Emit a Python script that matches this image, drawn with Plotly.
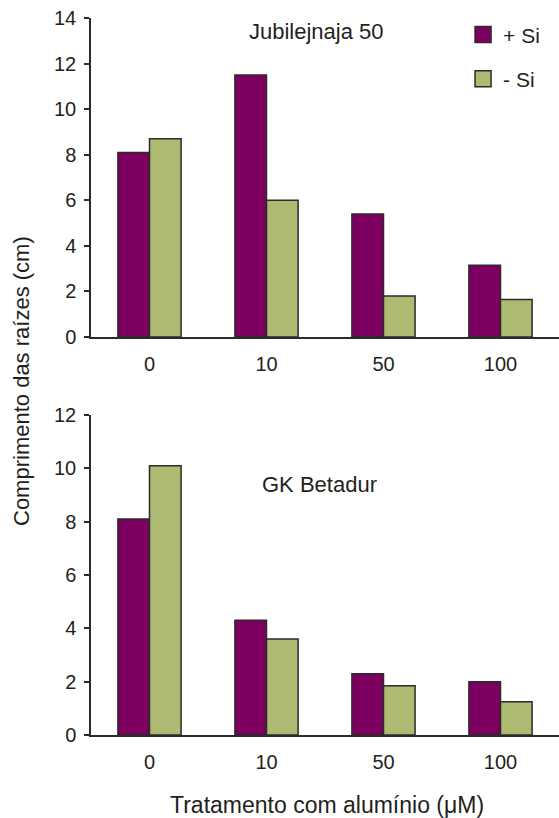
import plotly.graph_objects as go

# Aluminium treatment levels (µM)
categories = ["0", "10", "50", "100"]

# Root length (cm) – cultivar Jubilejnaja 50
jub_plus_si = [8.1, 11.5, 5.4, 3.15]
jub_minus_si = [8.7, 6.0, 1.8, 1.65]

# Root length (cm) – cultivar GK Betadur
gk_plus_si = [8.1, 4.3, 2.3, 2.0]
gk_minus_si = [10.1, 3.6, 1.85, 1.25]

series_names = ["+ Si", "- Si"]
y_ticks_top = [0, 2, 4, 6, 8, 10, 12, 14]
y_ticks_bottom = [0, 2, 4, 6, 8, 10, 12]

PURPLE = "#7d0060"
GREEN = "#adba72"
EDGE = "#2b2b2b"
TEXT = "#231f20"
FONT = "Liberation Sans, Arial, sans-serif"

fig = go.Figure()

bar_line = dict(color=EDGE, width=1.5)

# Top panel
fig.add_trace(go.Bar(x=categories, y=jub_plus_si, marker=dict(color=PURPLE, line=bar_line),
                     xaxis="x", yaxis="y", showlegend=False))
fig.add_trace(go.Bar(x=categories, y=jub_minus_si, marker=dict(color=GREEN, line=bar_line),
                     xaxis="x", yaxis="y", showlegend=False))
# Bottom panel
fig.add_trace(go.Bar(x=categories, y=gk_plus_si, marker=dict(color=PURPLE, line=bar_line),
                     xaxis="x2", yaxis="y2", showlegend=False))
fig.add_trace(go.Bar(x=categories, y=gk_minus_si, marker=dict(color=GREEN, line=bar_line),
                     xaxis="x2", yaxis="y2", showlegend=False))

# Legend entries with larger square swatches
for name, color, grp in zip(series_names, [PURPLE, GREEN], ["a", "b"]):
    fig.add_trace(go.Scatter(x=[None], y=[None], mode="markers", name=name,
                             legendgroup=grp,
                             marker=dict(symbol="square", size=16, color=color,
                                         line=dict(color=EDGE, width=1.5)),
                             xaxis="x", yaxis="y"))

axis_common = dict(
    showline=True, linecolor=EDGE, linewidth=1.5,
    showgrid=False, zeroline=False,
    tickfont=dict(family=FONT, size=20, color=TEXT),
)

xaxis_common = dict(axis_common, type="category", range=[-0.5, 3.5],
                    ticks="", ticklabelstandoff=8, domain=[0, 1])
yaxis_common = dict(axis_common, ticks="outside", ticklen=5, tickwidth=1.5,
                    tickcolor=EDGE, ticklabelstandoff=4)

fig.update_layout(
    width=559, height=818,
    margin=dict(l=91, r=0, t=18, b=83),
    paper_bgcolor="white", plot_bgcolor="white",
    barmode="group", bargap=0.46, bargroupgap=0,
    font=dict(family=FONT, color=TEXT),
    xaxis=dict(xaxis_common, anchor="y"),
    xaxis2=dict(xaxis_common, anchor="y2"),
    yaxis=dict(yaxis_common, anchor="x", domain=[0.555, 1.0], range=[0, 14],
               tickvals=y_ticks_top),
    yaxis2=dict(yaxis_common, anchor="x2", domain=[0.0, 0.4463], range=[0, 12],
                tickvals=y_ticks_bottom),
    legend=dict(x=0.795, y=1.005, xanchor="left", yanchor="top",
                font=dict(family=FONT, size=21, color=TEXT),
                tracegroupgap=14, traceorder="grouped",
                bgcolor="rgba(0,0,0,0)"),
    annotations=[
        dict(text="Jubilejnaja 50", x=0.481, y=0.981, xref="paper", yref="paper",
             xanchor="center", yanchor="middle", showarrow=False,
             font=dict(family=FONT, size=22, color=TEXT)),
        dict(text="GK Betadur", x=0.489, y=0.35, xref="paper", yref="paper",
             xanchor="center", yanchor="middle", showarrow=False,
             font=dict(family=FONT, size=22, color=TEXT)),
        dict(text="Comprimento das raízes (cm)", x=-0.1496, y=0.4937,
             xref="paper", yref="paper", xanchor="center", yanchor="middle",
             textangle=-90, showarrow=False,
             font=dict(family=FONT, size=22, color=TEXT)),
        dict(text="Tratamento com alumínio (μM)", x=0.504, y=-0.098,
             xref="paper", yref="paper", xanchor="center", yanchor="middle",
             showarrow=False,
             font=dict(family=FONT, size=23, color=TEXT)),
    ],
)

fig.write_html("out.html")
